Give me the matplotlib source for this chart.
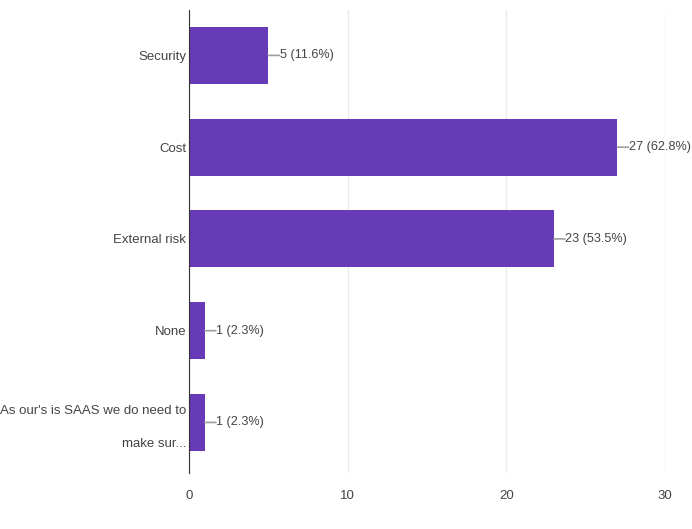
import matplotlib
matplotlib.use("Agg")
import matplotlib.pyplot as plt
from matplotlib import font_manager
from matplotlib.transforms import ScaledTranslation

categories = ["Security", "Cost", "External risk", "None",
              "As our's is SAAS we do need to\nmake sur..."]
counts = [5, 27, 23, 1, 1]
percents = [11.6, 62.8, 53.5, 2.3, 2.3]
xticks = [0, 10, 20, 30]

names = {f.name for f in font_manager.fontManager.ttflist}
family = "Liberation Sans Narrow" if "Liberation Sans Narrow" in names else "Liberation Sans"
plt.rcParams["font.family"] = [family, "DejaVu Sans"]

fs = 9.5
fig = plt.figure(figsize=(6.92, 5.29), dpi=100)
ax = fig.add_axes([0.273, 0.106, 0.688, 0.876])

ypos = list(range(len(categories)))
ax.barh(ypos, counts, height=0.62, color="#673ab7", zorder=3)

# value labels with a short connector line
for y, c, p in zip(ypos, counts, percents):
    ax.annotate("", xy=(c, y), xytext=(8, 0), textcoords="offset points",
                arrowprops=dict(arrowstyle="-", color="#9e9e9e", lw=1.2,
                                shrinkA=0, shrinkB=0))
    ax.annotate(f"{c} ({p}%)", xy=(c, y), xytext=(8.3, 0), textcoords="offset points",
                ha="left", va="center", fontsize=9.1, color="#444444")

ax.set_xlim(0, 30)
ax.set_ylim(4.55, -0.5)
ax.set_yticks(ypos)
ax.set_yticklabels(categories, fontsize=fs, color="#444444", ha="right",
                   linespacing=3.3)
ax.set_xticks(xticks)
ax.set_xticklabels([str(t) for t in xticks], fontsize=fs, color="#444444")
ax.tick_params(axis="both", length=0)
ax.tick_params(axis="x", pad=12)
ax.tick_params(axis="y", pad=2)

# nudge the two-line label up a little so it sits centred on its bar
lab = ax.get_yticklabels()[-1]
lab.set_transform(lab.get_transform() + ScaledTranslation(0, 5 / 72, fig.dpi_scale_trans))

ax.grid(axis="x", color="#ebebeb", lw=1, zorder=0)
for s in ["top", "right", "bottom"]:
    ax.spines[s].set_visible(False)
ax.spines["left"].set_color("#333333")
ax.spines["left"].set_zorder(4)

fig.savefig("out.png", dpi=100)
